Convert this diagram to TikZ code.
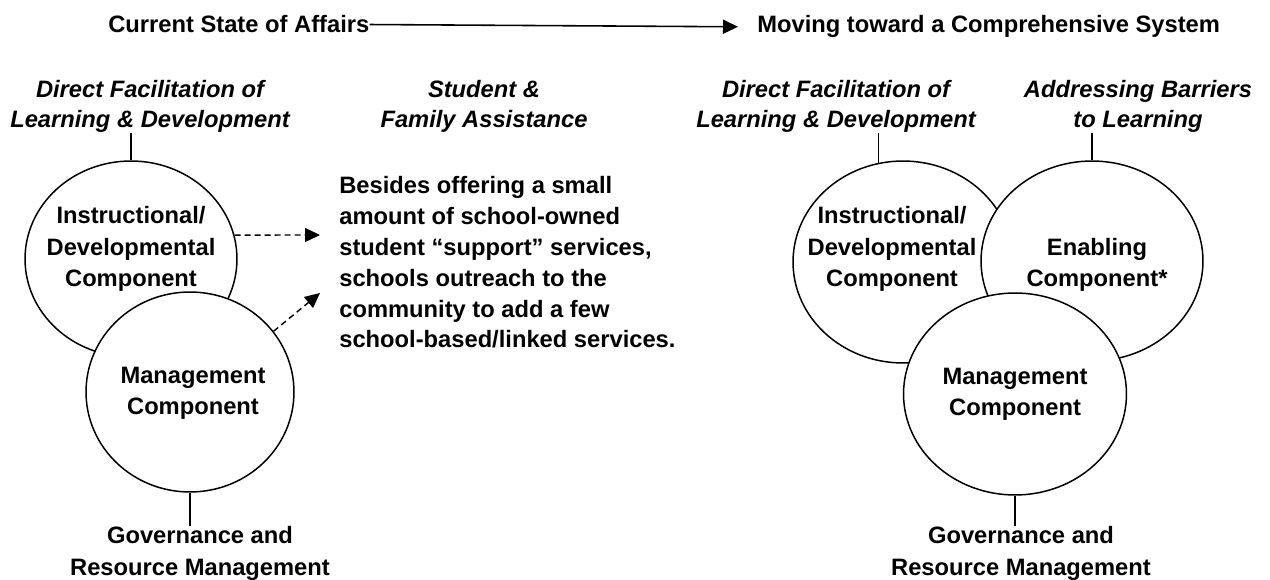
\documentclass[tikz,border=0pt]{standalone}
\usepackage{fontspec}
\setmainfont{Liberation Sans}
\usetikzlibrary{shapes.geometric,arrows.meta}
\begin{document}
\begin{tikzpicture}[x=0.02cm,y=-0.02cm,
  txt/.style={inner sep=0pt, font=\fontsize{13.5}{18}\selectfont\bfseries},
  itxt/.style={inner sep=0pt, font=\fontsize{13.5}{17.6}\selectfont\bfseries\itshape},
  circ/.style={ellipse, draw, line width=0.85pt, fill=white, inner sep=0pt},
  conn/.style={line width=0.7pt},
  toparrow/.style={line width=0.9pt, -{Triangle[length=0.3cm,width=0.28cm]}},
  dasharrow/.style={line width=0.8pt, dash pattern=on 0.12cm off 0.08cm, -{Triangle[length=0.3cm,width=0.28cm]}}
]
\useasboundingbox (0,0) rectangle (1270,580);

% title row
\node[txt, anchor=base west] (cur) at (108,33) {Current State of Affairs};
\node[txt, anchor=base west] (mov) at (757,33) {Moving toward a Comprehensive System};
\draw[toparrow, shorten >=0.38cm] (cur.east) -- (mov.west);

% headings (base = baseline of last line)
\node[itxt, align=center, anchor=base] (dfl1) at (150,128) {Direct Facilitation of\\Learning \& Development};
\node[itxt, align=center, anchor=base] (sfa) at (484,128) {Student \&\\Family Assistance};
\node[itxt, align=center, anchor=base] (dfl2) at (836,128) {Direct Facilitation of\\Learning \& Development};
\node[itxt, align=center, anchor=base] (abl) at (1138,128) {Addressing Barriers\\to Learning};

% left cluster
\node[circ, minimum width=4.24cm, minimum height=3.92cm] (ins1) at (131,259) {};
\node[circ, minimum width=4.16cm, minimum height=4.0cm] (mgm1) at (190,392) {};
\node[txt, align=center, anchor=base] (ins1t) at (131,287) {Instructional/\\Developmental\\Component};
\node[txt, align=center, anchor=base] (mgm1t) at (193,415) {Management\\Component};

% paragraph
\node[txt, align=left, anchor=base west, font=\fontsize{13.5}{17.6}\selectfont\bfseries] (para) at (339,348) {Besides offering a small\\amount of school-owned\\student “support” services,\\schools outreach to the\\community to add a few\\school-based/linked services.};
\coordinate (tip1) at (320,235);
\coordinate (tip2) at (320,293);
\draw[dasharrow] (ins1.13) -- (tip1);
\draw[dasharrow] (mgm1.36) -- (tip2);

% right cluster
\node[circ, minimum width=4.4cm, minimum height=4.04cm] (ins2) at (903,262) {};
\node[circ, minimum width=4.44cm, minimum height=4.0cm] (enb) at (1092,261) {};
\node[circ, minimum width=4.46cm, minimum height=4.04cm] (mgm2) at (1015,394) {};
\node[txt, align=center, anchor=base] (ins2t) at (892,287) {Instructional/\\Developmental\\Component};
\node[txt, align=center, anchor=base] (enbt) at (1097,287) {Enabling\\Component*};
\node[txt, align=center, anchor=base] (mgm2t) at (1015,416) {Management\\Component};

% governance
\node[txt, align=center, anchor=base] (gov1) at (200,575) {Governance and\\Resource Management};
\node[txt, align=center, anchor=base] (gov2) at (1021,575) {Governance and\\Resource Management};

% connectors
\draw[conn] (dfl1.south -| ins1.north) -- (ins1.north);
\draw[conn] (dfl2.south -| ins2.104) -- (ins2.104);
\draw[conn] (abl.south -| enb.north) -- (enb.north);
\draw[conn] (mgm1.south) -- (mgm1.south |- gov1.north);
\draw[conn] (mgm2.south) -- (mgm2.south |- gov2.north);
\end{tikzpicture}
\end{document}
